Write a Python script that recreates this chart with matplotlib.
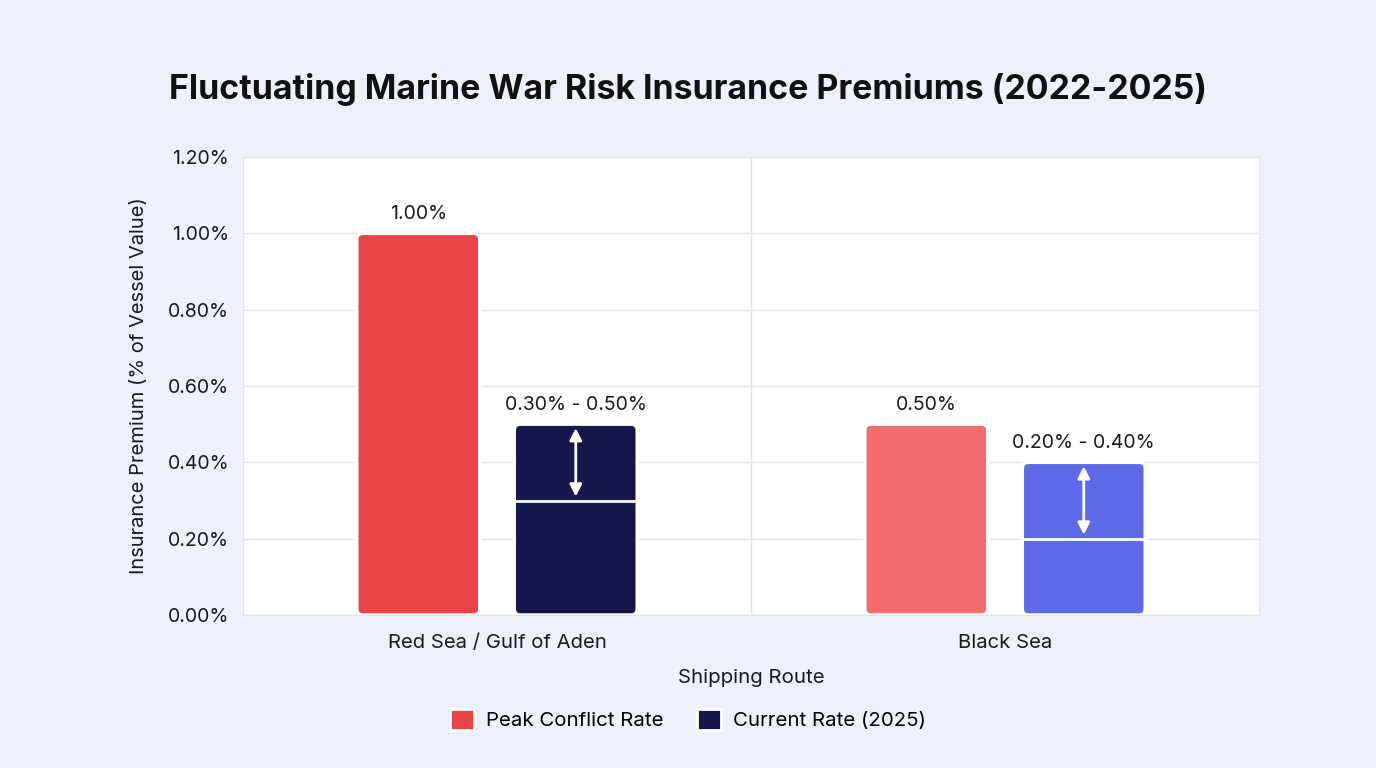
import numpy as np
import matplotlib
matplotlib.use("Agg")
import matplotlib.pyplot as plt
from matplotlib.patches import FancyBboxPatch, Patch

plt.rcParams["font.family"] = ["Inter", "DejaVu Sans"]

# ── data ────────────────────────────────────────────────────────────────────
ROUTES = ["Red Sea / Gulf of Aden", "Black Sea"]
PEAK = [1.00, 0.50]
CURRENT_LOW = [0.30, 0.20]
CURRENT_HIGH = [0.50, 0.40]
Y_TICKS = [0.0, 0.2, 0.4, 0.6, 0.8, 1.0, 1.2]

PEAK_COLORS = ["#E84447", "#F26E6E"]
CURRENT_COLORS = ["#16174A", "#5E69E8"]
BG = "#EDF1FB"
GRID = "#E3E3E8"
TXT = "#1A1A1A"
# ────────────────────────────────────────────────────────────────────────────

fig = plt.figure(figsize=(13.76, 7.68), dpi=100, facecolor=BG)
ax = fig.add_axes([0.1766, 0.1992, 0.7384, 0.5964])
ax.set_facecolor("white")

x = np.arange(len(ROUTES))
width = 0.242
offset = 0.155

peak_bars = ax.bar(x - offset, PEAK, width, color=PEAK_COLORS, zorder=3)
cur_bars = ax.bar(x + offset, CURRENT_HIGH, width, color=CURRENT_COLORS, zorder=3)

ax.set_xlim(-0.5, 1.5)
ax.set_ylim(0, 1.2)

# swap rectangles for rounded ones
aspect = (1.2 / 458) / (2.0 / 1016)
for bar in list(peak_bars) + list(cur_bars):
    bx, by = bar.get_x(), bar.get_y()
    bw, bh = bar.get_width(), bar.get_height()
    rp = FancyBboxPatch((bx, by), bw, bh,
                        boxstyle="round,pad=0,rounding_size=0.012",
                        mutation_aspect=aspect,
                        facecolor=bar.get_facecolor(), edgecolor="white",
                        linewidth=2.5, zorder=3)
    ax.add_patch(rp)
    bar.set_visible(False)

# range markers in current bars
for i in range(len(ROUTES)):
    xc = x[i] + offset
    ax.hlines(CURRENT_LOW[i], xc - width / 2, xc + width / 2,
              color="white", linewidth=2, zorder=4)
    ax.annotate("", xy=(xc, CURRENT_HIGH[i] - 0.01), xytext=(xc, CURRENT_LOW[i] + 0.01),
                arrowprops=dict(arrowstyle="<|-|>", color="white", lw=2,
                                mutation_scale=18, shrinkA=0, shrinkB=0),
                zorder=5)
    ax.text(xc, CURRENT_HIGH[i] + 0.027, f"{CURRENT_LOW[i]:.2f}% - {CURRENT_HIGH[i]:.2f}%",
            ha="center", va="bottom", fontsize=14, color=TXT, zorder=5)
    ax.text(x[i] - offset, PEAK[i] + 0.027, f"{PEAK[i]:.2f}%",
            ha="center", va="bottom", fontsize=14, color=TXT, zorder=5)

ax.set_yticks(Y_TICKS)
ax.set_yticklabels([f"{v:.2f}%" for v in Y_TICKS], fontsize=14, color=TXT)
ax.set_xticks(x)
ax.set_xticklabels(ROUTES, fontsize=14.6, color=TXT)
ax.tick_params(axis="y", length=0, pad=10)
ax.tick_params(axis="x", length=0, pad=14)
ax.yaxis.grid(True, color=GRID, linewidth=1, zorder=0)
ax.axvline(0.5, color=GRID, linewidth=1, zorder=0)
for s in ax.spines.values():
    s.set_color(GRID)

ax.set_xlabel("Shipping Route", fontsize=14.7, color=TXT, labelpad=12)
ax.set_ylabel("Insurance Premium (% of Vessel Value)", fontsize=14.5, color=TXT, labelpad=14)

fig.text(0.5, 0.884, "Fluctuating Marine War Risk Insurance Premiums (2022-2025)",
         ha="center", va="center", fontsize=24.4, fontweight="bold", color="#111111")

handles = [Patch(facecolor=PEAK_COLORS[0], edgecolor="white", linewidth=2),
           Patch(facecolor=CURRENT_COLORS[0], edgecolor="white", linewidth=2)]
fig.legend(handles, ["Peak Conflict Rate", "Current Rate (2025)"],
           loc="center", bbox_to_anchor=(0.5, 0.063), ncol=2, frameon=False,
           fontsize=14.7, handlelength=1.2, handleheight=1.2, columnspacing=1.6,
           handletextpad=0.6)

fig.savefig("out.png", dpi=100, facecolor=BG)
